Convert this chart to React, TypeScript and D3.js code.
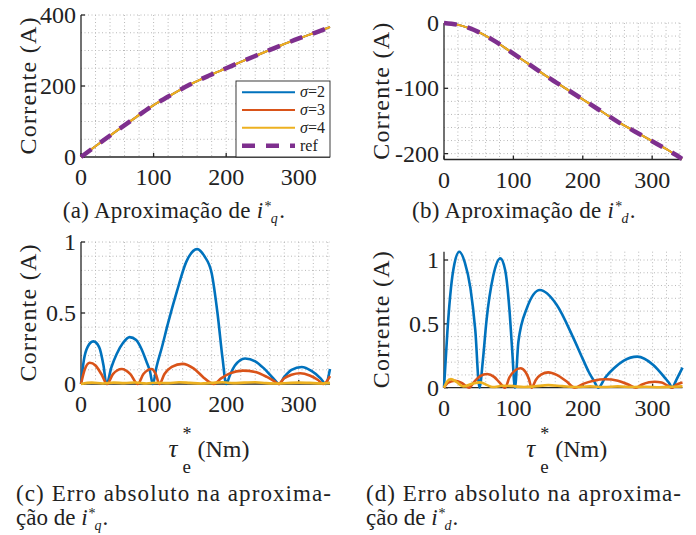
import React from 'react';
import * as d3 from 'd3';

type Pt = [number, number];

const FONT = '"Liberation Serif", Tinos, "Times New Roman", "Noto Serif", "DejaVu Serif", serif';
const AXIS = '#262626';
const GRID = '#b8b8b8';
const C_S2 = '#0072BD';
const C_S3 = '#D95319';
const C_S4 = '#EDB120';
const C_REF = '#7E2F8E';

const X_MAX = 343;
const X_TICKS = [0, 100, 200, 300];
const LEGEND = ['2', '3', '4', 'ref'];

// (a), (b) reference currents vs torque
const torque = [0, 25, 50, 75, 100, 125, 150, 175, 200, 225, 250, 275, 300, 325, 343];
const iqRef = [0, 38, 75, 111, 146, 176, 204, 228, 250, 272, 293, 314, 334, 352, 366];
const idRef = [0, -4, -14, -29, -47, -65, -83, -100, -117, -134, -151, -166, -181, -196, -208];

// (c) absolute error on iq
const errQ2: Pt[] = [[0, 0], [4, 0.17], [9, 0.26], [17, 0.3], [25, 0.26], [31, 0.13], [35, 0], [42, 0.12], [49, 0.21],
  [58, 0.29], [67, 0.33], [76, 0.31], [83, 0.25], [90, 0.16], [95, 0.09], [99, 0], [104, 0.12], [111, 0.25], [120, 0.43],
  [132, 0.65], [145, 0.86], [160, 0.95], [170, 0.9], [180, 0.78], [188, 0.5], [195, 0.18], [200, 0], [205, 0.06],
  [212, 0.13], [226, 0.18], [240, 0.16], [252, 0.11], [265, 0.04], [273, 0], [280, 0.05], [290, 0.1], [304, 0.12],
  [318, 0.09], [330, 0.04], [337, 0], [343, 0.105]];
const errQ3: Pt[] = [[0, 0], [5, 0.1], [12, 0.15], [20, 0.13], [28, 0.07], [36, 0], [44, 0.07], [56, 0.106], [68, 0.07],
  [78, 0], [86, 0.07], [97, 0.106], [103, 0.07], [108, 0], [115, 0.07], [125, 0.12], [140, 0.142], [155, 0.11],
  [168, 0.05], [178, 0.01], [183, 0], [193, 0.04], [205, 0.075], [223, 0.094], [240, 0.085], [256, 0.05], [266, 0.02],
  [272, 0], [280, 0.04], [290, 0.065], [302, 0.076], [315, 0.06], [326, 0.03], [334, 0], [343, 0.056]];
const errQ4: Pt[] = [[0, 0], [15, 0.01], [30, 0.004], [45, 0.01], [60, 0.006], [75, 0.011], [90, 0.004], [105, 0.009],
  [120, 0.006], [135, 0.012], [150, 0.008], [165, 0.004], [180, 0.008], [195, 0.012], [210, 0.006], [225, 0.01],
  [240, 0.012], [255, 0.006], [270, 0.003], [285, 0.007], [300, 0.01], [315, 0.008], [330, 0.004], [343, 0.008]];

// (d) absolute error on id
const errD2: Pt[] = [[0, 0], [5, 0.45], [10, 0.78], [15, 0.97], [22, 1.065], [30, 0.98], [38, 0.78], [45, 0.45], [51, 0],
  [56, 0.22], [61, 0.52], [71, 0.88], [81, 1.013], [88, 0.92], [94, 0.62], [98, 0.3], [102, 0], [107, 0.36], [119, 0.62],
  [138, 0.765], [162, 0.65], [186, 0.39], [200, 0.22], [208, 0.125], [216, 0.05], [222, 0], [232, 0.08], [244, 0.15],
  [258, 0.21], [278, 0.243], [301, 0.178], [318, 0.075], [324, 0.035], [328, 0], [334, 0.06], [343, 0.157]];
const errD3: Pt[] = [[0, 0], [6, 0.04], [16, 0.055], [26, 0.035], [36, 0], [44, 0.05], [52, 0.09], [62, 0.107], [72, 0.085],
  [80, 0.04], [88, 0], [94, 0.08], [101, 0.13], [110, 0.152], [117, 0.125], [122, 0.07], [126, 0], [132, 0.06],
  [140, 0.105], [150, 0.12], [162, 0.1], [176, 0.05], [188, 0], [200, 0.03], [215, 0.055], [232, 0.066], [250, 0.055],
  [265, 0.025], [276, 0], [285, 0.025], [295, 0.042], [303, 0.047], [313, 0.04], [322, 0.015], [328, 0], [335, 0.025],
  [343, 0.04]];
const errD4: Pt[] = [[0, 0], [4, 0.045], [10, 0.067], [18, 0.045], [28, 0.01], [40, 0.03], [52, 0.042], [62, 0.02],
  [70, 0.005], [85, 0.015], [100, 0.012], [115, 0.005], [130, 0.01], [150, 0.02], [170, 0.012], [190, 0.005],
  [210, 0.01], [230, 0.006], [250, 0.01], [270, 0.005], [290, 0.008], [310, 0.004], [330, 0.008], [343, 0.01]];

interface Box { l: number; r: number; t: number; b: number }
interface Series { data: Pt[]; color: string; width: number; dash?: string }

const txt = (size: number, extra: React.CSSProperties = {}): React.CSSProperties =>
  ({ fontFamily: FONT, fontSize: size, fill: '#222', ...extra });

function Panel(props: {
  box: Box; yDomain: [number, number]; yTicks: number[]; yStep: number;
  lines: Series[]; yLabelX: number; xLabel?: boolean;
}) {
  const { box, yDomain, yTicks, yStep, lines, yLabelX, xLabel } = props;
  const x = d3.scaleLinear().domain([0, X_MAX]).range([box.l, box.r]);
  const y = d3.scaleLinear().domain(yDomain).range([box.b, box.t]);
  const path = d3.line<Pt>().x(d => x(d[0])).y(d => y(d[1])).curve(d3.curveMonotoneX);

  const kLo = Math.ceil(yDomain[0] / yStep - 1e-6);
  const kHi = Math.floor(yDomain[1] / yStep + 1e-6);
  const hGrid = d3.range(kLo, kHi + 1).map(k => k * yStep).filter(v => Math.abs(y(v) - box.b) > 1);
  const vGrid = d3.range(20, X_MAX, 20);
  const cx = (box.l + box.r) / 2;
  const cy = (box.t + box.b) / 2;

  return (
    <g>
      <g stroke={GRID} strokeWidth={1} strokeDasharray="1 2.5">
        {vGrid.map(v => <line key={'v' + v} x1={x(v)} x2={x(v)} y1={box.t} y2={box.b} />)}
        {hGrid.map(v => <line key={'h' + v} x1={box.l} x2={box.r} y1={y(v)} y2={y(v)} />)}
      </g>
      <g stroke={AXIS} strokeWidth={1.3}>
        <line x1={box.l} x2={box.l} y1={box.t} y2={box.b} />
        <line x1={box.l} x2={box.r} y1={box.b} y2={box.b} />
        {yTicks.map(t => <line key={'yt' + t} x1={box.l} x2={box.l + 4} y1={y(t)} y2={y(t)} />)}
        {X_TICKS.map(t => <line key={'xt' + t} x1={x(t)} x2={x(t)} y1={box.b} y2={box.b - 4} />)}
      </g>
      {lines.map((s, i) => (
        <path key={i} d={path(s.data) || ''} fill="none" stroke={s.color} strokeWidth={s.width}
          strokeDasharray={s.dash} strokeLinejoin="round" />
      ))}
      {yTicks.map(t => (
        <text key={'yl' + t} x={box.l - 5} y={y(t) + 8} textAnchor="end" style={txt(24)}>{String(t)}</text>
      ))}
      {X_TICKS.map(t => (
        <text key={'xl' + t} x={x(t)} y={box.b + 28} textAnchor="middle" style={txt(24)}>{String(t)}</text>
      ))}
      <text transform={`translate(${yLabelX},${cy}) rotate(-90)`} textAnchor="middle" style={txt(24)}
        textLength={137} lengthAdjust="spacing">Corrente (A)</text>
      {xLabel && (
        <g>
          <text x={cx - 37} y={457} style={txt(25, { fontStyle: 'italic' })}>τ</text>
          <text x={cx - 23} y={440} style={txt(18)}>*</text>
          <text x={cx - 23} y={473} style={txt(19)}>e</text>
          <text x={cx - 8} y={457} style={txt(24)}>(Nm)</text>
        </g>
      )}
    </g>
  );
}

function Legend({ box }: { box: Box }) {
  const colors = [C_S2, C_S3, C_S4, C_REF];
  const rows = [92.3, 110, 127.7, 145.7];
  return (
    <g>
      <rect x={box.l} y={box.t} width={box.r - box.l} height={box.b - box.t} fill="#fff" stroke={AXIS} strokeWidth={0.9} />
      {LEGEND.map((lab, i) => (
        <g key={lab}>
          <line x1={box.l + 6} x2={box.l + 59} y1={rows[i]} y2={rows[i]} stroke={colors[i]}
            strokeWidth={i === 3 ? 4.5 : 2} strokeDasharray={i === 3 ? '13 11' : undefined} />
          <text x={box.l + 64} y={rows[i] + 5} style={txt(16)}>
            {i === 3 ? 'ref' : <><tspan style={{ fontStyle: 'italic' }}>σ</tspan>{'=' + lab}</>}
          </text>
        </g>
      ))}
    </g>
  );
}

// "i" with a star above and a subscript after it, then a full stop
function IStar({ sub }: { sub: string }) {
  return (
    <>
      <tspan style={{ fontStyle: 'italic' }}>i</tspan>
      <tspan dx={1} dy={-7} style={{ fontSize: 14 }}>*</tspan>
      <tspan dx={-1} dy={12} style={{ fontSize: 14, fontStyle: 'italic' }}>{sub}</tspan>
      <tspan dx={1} dy={-5}>.</tspan>
    </>
  );
}

function Caption({ x, y, letter, sub }: { x: number; y: number; letter: string; sub: string }) {
  return (
    <text x={x} y={y} textAnchor="middle" style={txt(23, { letterSpacing: 0.3 })}>
      {`(${letter}) Aproximação de `}
      <IStar sub={sub} />
    </text>
  );
}

function ErrCaption({ x, letter, sub }: { x: number; letter: string; sub: string }) {
  return (
    <g>
      <text x={x} y={501} textLength={315} lengthAdjust="spacing" style={txt(23)}>
        {`(${letter}) Erro absoluto na aproxima-`}
      </text>
      <text x={x} y={525} style={txt(23)}>
        {'ção de '}
        <IStar sub={sub} />
      </text>
    </g>
  );
}

export default function App() {
  const iqLine: Pt[] = torque.map((t, i) => [t, iqRef[i]]);
  const idLine: Pt[] = torque.map((t, i) => [t, idRef[i]]);
  const approx = (d: Pt[]): Series[] => [
    { data: d, color: C_S2, width: 2 },
    { data: d, color: C_S3, width: 2 },
    { data: d, color: C_S4, width: 2 },
    { data: d, color: C_REF, width: 4.5, dash: '13 11' },
  ];
  const boxA = { l: 81, r: 330, t: 15, b: 157 };
  const boxB = { l: 444, r: 682, t: 23, b: 159.5 };
  const boxC = { l: 81, r: 330, t: 242, b: 384 };
  const boxD = { l: 444, r: 682.5, t: 251.7, b: 387.7 };

  return (
    <svg width={696} height={535} style={{ position: 'absolute', left: 0, top: 0, background: '#fff' }}>
      <Panel box={boxA} yDomain={[0, 400]} yTicks={[0, 200, 400]} yStep={50} lines={approx(iqLine)} yLabelX={36} />
      <Legend box={{ l: 236, r: 330, t: 81, b: 157 }} />
      <Panel box={boxB} yDomain={[-209, 0]} yTicks={[-200, -100, 0]} yStep={20} lines={approx(idLine)} yLabelX={389} />
      <Panel box={boxC} yDomain={[0, 1]} yTicks={[0, 0.5, 1]} yStep={0.1} yLabelX={36} xLabel
        lines={[
          { data: errQ2, color: C_S2, width: 2.6 },
          { data: errQ3, color: C_S3, width: 2.6 },
          { data: errQ4, color: C_S4, width: 2.6 },
        ]} />
      <Panel box={boxD} yDomain={[0, 1.065]} yTicks={[0, 0.5, 1]} yStep={0.1} yLabelX={389} xLabel
        lines={[
          { data: errD2, color: C_S2, width: 2.6 },
          { data: errD3, color: C_S3, width: 2.6 },
          { data: errD4, color: C_S4, width: 2.6 },
        ]} />
      <Caption x={174} y={218} letter="a" sub="q" />
      <Caption x={524} y={218} letter="b" sub="d" />
      <ErrCaption x={16} letter="c" sub="q" />
      <ErrCaption x={366} letter="d" sub="d" />
    </svg>
  );
}
